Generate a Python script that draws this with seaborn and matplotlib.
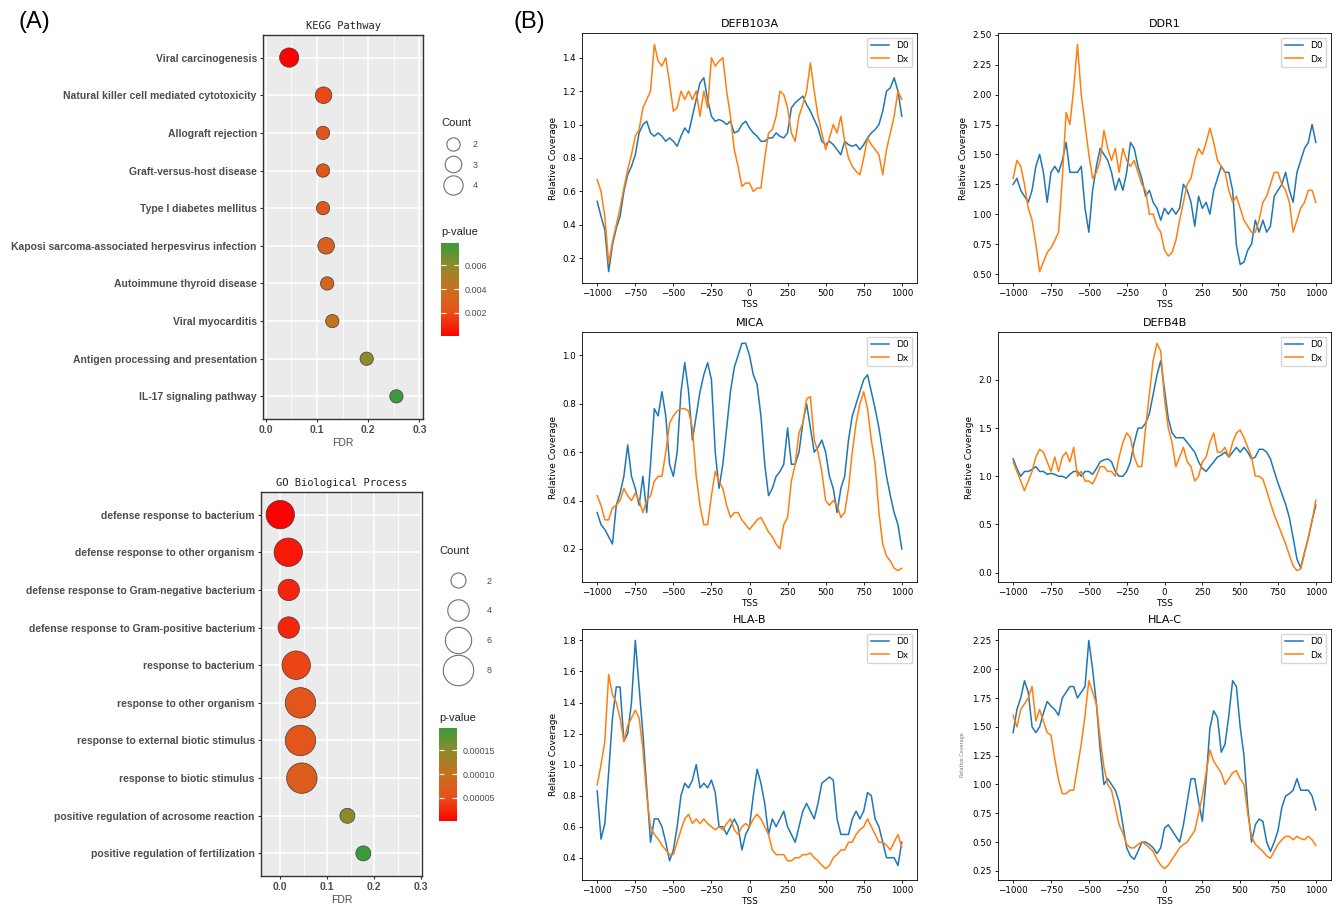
import numpy as np
import pandas as pd
import seaborn as sns
import matplotlib.pyplot as plt
from matplotlib.colors import LinearSegmentedColormap, Normalize
from matplotlib.cm import ScalarMappable
from matplotlib.lines import Line2D
from matplotlib.ticker import MultipleLocator, FormatStrFormatter

# ---- Panel A: enrichment dot plots ----
kegg_terms = ['Viral carcinogenesis', 'Natural killer cell mediated cytotoxicity',
              'Allograft rejection', 'Graft-versus-host disease', 'Type I diabetes mellitus',
              'Kaposi sarcoma-associated herpesvirus infection', 'Autoimmune thyroid disease',
              'Viral myocarditis', 'Antigen processing and presentation', 'IL-17 signaling pathway']
kegg_fdr = [0.046, 0.113, 0.112, 0.112, 0.112, 0.118, 0.120, 0.130, 0.197, 0.255]
kegg_count = [4, 3, 2, 2, 2, 3, 2, 2, 2, 2]
kegg_p = [0.00003, 0.0018, 0.0024, 0.0024, 0.0024, 0.0030, 0.0033, 0.0041, 0.0059, 0.0079]

go_terms = ['defense response to bacterium', 'defense response to other organism',
            'defense response to Gram-negative bacterium', 'defense response to Gram-positive bacterium',
            'response to bacterium', 'response to other organism',
            'response to external biotic stimulus', 'response to biotic stimulus',
            'positive regulation of acrosome reaction', 'positive regulation of fertilization']
go_fdr = [0.000, 0.017, 0.018, 0.018, 0.034, 0.043, 0.043, 0.046, 0.143, 0.177]
go_count = [7, 7, 4, 4, 7, 8, 8, 8, 2, 2]
go_p = [1.3e-6, 1.6e-5, 2.4e-5, 2.4e-5, 4.3e-5, 5.9e-5, 5.9e-5, 6.8e-5, 1.5e-4, 1.97e-4]

# ---- Panel B: coverage around TSS ----
tss = list(range(-1000, 1001, 25))

defb103a_d0 = [0.54, 0.45, 0.37, 0.12, 0.28, 0.38, 0.45, 0.6, 0.7, 0.75,
               0.82, 0.95, 1.0, 1.02, 0.95, 0.93, 0.95, 0.93, 0.9, 0.92,
               0.9, 0.87, 0.93, 0.98, 0.95, 1.05, 1.15, 1.25, 1.28, 1.15,
               1.05, 1.02, 1.03, 1.02, 1.0, 1.02, 0.95, 0.96, 1.0, 1.02,
               0.98, 0.95, 0.93, 0.9, 0.9, 0.92, 0.92, 0.95, 0.93, 0.92,
               0.95, 1.1, 1.13, 1.15, 1.17, 1.12, 1.08, 1.03, 0.98, 0.9,
               0.88, 0.9, 0.88, 0.85, 0.82, 0.9, 0.88, 0.87, 0.88, 0.85,
               0.88, 0.92, 0.95, 0.97, 1.0, 1.08, 1.2, 1.22, 1.28, 1.2,
               1.05]
defb103a_dx = [0.67, 0.6, 0.45, 0.17, 0.3, 0.4, 0.5, 0.62, 0.73, 0.82,
               0.93, 0.97, 1.1, 1.15, 1.2, 1.48, 1.38, 1.35, 1.4, 1.25,
               1.08, 1.1, 1.2, 1.15, 1.2, 1.15, 1.2, 1.05, 1.2, 1.1,
               1.4, 1.35, 1.38, 1.4, 1.2, 1.05, 0.85, 0.75, 0.63, 0.65,
               0.65, 0.6, 0.62, 0.62, 0.8, 0.95, 0.97, 1.05, 1.2, 1.18,
               1.1, 0.95, 0.9, 1.05, 1.12, 1.2, 1.37, 1.2, 1.05, 0.95,
               0.85, 0.92, 1.0, 0.95, 1.05, 0.9, 0.8, 0.75, 0.72, 0.7,
               0.8, 0.92, 0.88, 0.85, 0.82, 0.7, 0.85, 0.95, 1.05, 1.2,
               1.15]

ddr1_d0 = [1.25, 1.3, 1.2, 1.15, 1.1, 1.2, 1.4, 1.5, 1.35, 1.1,
           1.35, 1.4, 1.35, 1.45, 1.6, 1.35, 1.35, 1.35, 1.4, 1.05,
           0.85, 1.2, 1.4, 1.55, 1.5, 1.45, 1.35, 1.2, 1.3, 1.2,
           1.35, 1.6, 1.55, 1.4, 1.3, 1.15, 1.2, 1.1, 1.05, 0.95,
           1.05, 1.0, 1.05, 1.0, 1.05, 1.25, 1.2, 1.1, 0.9, 1.15,
           1.05, 1.1, 1.0, 1.2, 1.3, 1.4, 1.35, 1.35, 1.2, 0.74,
           0.58, 0.6, 0.7, 0.75, 0.95, 0.85, 0.95, 0.85, 0.9, 1.15,
           1.2, 1.25, 1.35, 1.2, 1.1, 1.35, 1.45, 1.55, 1.6, 1.75,
           1.6]
ddr1_dx = [1.3, 1.45, 1.4, 1.25, 1.05, 0.95, 0.75, 0.52, 0.6, 0.68,
           0.72, 0.78, 0.85, 1.3, 1.85, 1.75, 2.05, 2.42, 2.0, 1.75,
           1.5, 1.3, 1.35, 1.45, 1.7, 1.55, 1.45, 1.55, 1.35, 1.55,
           1.45, 1.4, 1.45, 1.35, 1.25, 1.2, 1.0, 1.0, 0.9, 0.85,
           0.7, 0.65, 0.68, 0.78, 0.95, 1.1, 1.25, 1.3, 1.45, 1.55,
           1.5, 1.6, 1.72, 1.6, 1.45, 1.4, 1.35, 1.2, 1.1, 1.15,
           1.05, 0.95, 0.9, 0.85, 0.85, 0.95, 1.1, 1.15, 1.25, 1.35,
           1.35, 1.25, 1.2, 1.1, 0.85, 0.95, 1.05, 1.1, 1.2, 1.2,
           1.1]

mica_d0 = [0.35, 0.3, 0.28, 0.25, 0.22, 0.38, 0.43, 0.5, 0.63, 0.5,
           0.45, 0.38, 0.5, 0.35, 0.55, 0.78, 0.75, 0.85, 0.75, 0.55,
           0.5, 0.6, 0.85, 0.97, 0.85, 0.65, 0.75, 0.85, 0.92, 0.97,
           0.9, 0.6, 0.45, 0.55, 0.7, 0.85, 0.95, 1.0, 1.05, 1.05,
           1.0, 0.92, 0.88, 0.75, 0.55, 0.42, 0.45, 0.5, 0.52, 0.55,
           0.7, 0.55, 0.55, 0.6, 0.72, 0.8, 0.7, 0.6, 0.62, 0.65,
           0.6, 0.5, 0.45, 0.35, 0.45, 0.5, 0.65, 0.75, 0.8, 0.85,
           0.9, 0.92, 0.85, 0.78, 0.7, 0.6, 0.5, 0.42, 0.35, 0.3,
           0.2]
mica_dx = [0.42, 0.38, 0.32, 0.32, 0.37, 0.38, 0.4, 0.45, 0.42, 0.4,
           0.43, 0.4, 0.35, 0.4, 0.42, 0.48, 0.5, 0.5, 0.6, 0.72,
           0.75, 0.77, 0.78, 0.78, 0.77, 0.7, 0.5, 0.38, 0.3, 0.3,
           0.42, 0.52, 0.48, 0.45, 0.38, 0.33, 0.35, 0.35, 0.32, 0.3,
           0.28, 0.3, 0.32, 0.33, 0.3, 0.27, 0.25, 0.22, 0.2, 0.3,
           0.33, 0.48, 0.55, 0.68, 0.72, 0.82, 0.83, 0.65, 0.6, 0.52,
           0.4, 0.38, 0.4, 0.38, 0.33, 0.35, 0.45, 0.6, 0.72, 0.8,
           0.85, 0.78, 0.65, 0.55, 0.35, 0.22, 0.17, 0.15, 0.12, 0.11,
           0.12]

defb4b_d0 = [1.18, 1.08, 1.0, 1.05, 1.05, 1.07, 1.1, 1.05, 1.05, 1.02,
             1.03, 1.02, 1.0, 1.0, 0.98, 1.02, 1.05, 1.05, 1.0, 1.05,
             1.05, 1.02, 1.08, 1.15, 1.17, 1.18, 1.15, 1.05, 1.0, 1.0,
             1.05, 1.15, 1.35, 1.5, 1.5, 1.55, 1.65, 1.85, 2.05, 2.2,
             1.9, 1.6, 1.45, 1.4, 1.4, 1.4, 1.35, 1.3, 1.25, 1.15,
             1.08, 1.05, 1.1, 1.15, 1.2, 1.22, 1.25, 1.2, 1.25, 1.3,
             1.25, 1.3, 1.25, 1.18, 1.2, 1.28, 1.28, 1.25, 1.18, 1.05,
             0.93, 0.82, 0.71, 0.57, 0.36, 0.14, 0.05, 0.21, 0.36, 0.54,
             0.7]
defb4b_dx = [1.15, 1.05, 0.95, 0.85, 0.95, 1.05, 1.2, 1.28, 1.25, 1.15,
             1.05, 1.2, 1.05, 1.2, 1.25, 1.15, 1.3, 1.0, 1.05, 0.95,
             0.95, 0.92, 1.0, 1.1, 1.1, 1.05, 1.05, 1.0, 1.2, 1.35,
             1.45, 1.4, 1.2, 1.1, 1.1, 1.5, 1.85, 2.2, 2.38, 2.3,
             1.8, 1.5, 1.35, 1.1, 1.2, 1.3, 1.15, 1.1, 0.95, 1.0,
             1.15, 1.2, 1.35, 1.45, 1.25, 1.25, 1.3, 1.2, 1.35, 1.45,
             1.48, 1.4, 1.3, 1.2, 1.0, 1.0, 0.97, 0.85, 0.72, 0.6,
             0.5, 0.4, 0.3, 0.18, 0.07, 0.02, 0.04, 0.2, 0.36, 0.54,
             0.75]

hlab_d0 = [0.83, 0.52, 0.62, 0.95, 1.3, 1.5, 1.5, 1.15, 1.2, 1.4,
           1.8, 1.5, 1.2, 0.85, 0.5, 0.65, 0.65, 0.6, 0.5, 0.38,
           0.45, 0.6, 0.8, 0.88, 0.85, 0.9, 1.0, 0.85, 0.88, 0.85,
           0.9, 0.82, 0.6, 0.6, 0.55, 0.6, 0.65, 0.6, 0.45, 0.55,
           0.6, 0.8, 0.97, 0.88, 0.75, 0.55, 0.65, 0.6, 0.65, 0.7,
           0.6, 0.55, 0.5, 0.6, 0.7, 0.75, 0.7, 0.65, 0.75, 0.88,
           0.9, 0.92, 0.9, 0.65, 0.55, 0.55, 0.55, 0.65, 0.7, 0.65,
           0.7, 0.82, 0.8, 0.65, 0.6, 0.5, 0.4, 0.4, 0.4, 0.35,
           0.5]
hlab_dx = [0.87, 1.0, 1.15, 1.58, 1.45, 1.4, 1.3, 1.15, 1.25, 1.3,
           1.35, 1.3, 1.1, 0.8, 0.6, 0.55, 0.52, 0.48, 0.45, 0.42,
           0.42, 0.5, 0.58, 0.65, 0.68, 0.62, 0.65, 0.62, 0.65, 0.62,
           0.6, 0.58, 0.6, 0.58, 0.62, 0.65, 0.58, 0.55, 0.6, 0.62,
           0.6, 0.65, 0.68, 0.65, 0.6, 0.55, 0.45, 0.42, 0.42, 0.42,
           0.38, 0.38, 0.4, 0.4, 0.42, 0.42, 0.43, 0.4, 0.38, 0.35,
           0.33, 0.35, 0.4, 0.42, 0.45, 0.45, 0.5, 0.5, 0.55, 0.58,
           0.6, 0.65, 0.6, 0.55, 0.5, 0.5, 0.48, 0.45, 0.5, 0.55,
           0.47]

hlac_d0 = [1.45, 1.65, 1.75, 1.9, 1.8, 1.5, 1.45, 1.5, 1.62, 1.72,
           1.68, 1.65, 1.6, 1.75, 1.8, 1.85, 1.85, 1.75, 1.8, 1.85,
           2.25, 2.0, 1.7, 1.3, 1.0, 1.05, 1.0, 0.95, 0.85, 0.65,
           0.45, 0.38, 0.35, 0.42, 0.5, 0.5, 0.48, 0.45, 0.4, 0.45,
           0.62, 0.65, 0.6, 0.55, 0.5, 0.65, 0.85, 1.05, 1.05, 0.85,
           0.68, 1.04, 1.49, 1.64, 1.58, 1.28, 1.35, 1.6, 1.9, 1.85,
           1.5, 1.25, 0.8, 0.5, 0.65, 0.7, 0.68, 0.5, 0.42, 0.5,
           0.6, 0.8, 0.9, 0.92, 0.95, 1.05, 0.95, 0.95, 0.95, 0.9,
           0.78]
hlac_dx = [1.6, 1.5, 1.65, 1.7, 1.75, 1.85, 1.55, 1.65, 1.55, 1.45,
           1.43, 1.22, 1.04, 0.92, 0.92, 0.95, 0.95, 1.15, 1.35, 1.6,
           1.9, 1.8, 1.7, 1.4, 1.15, 1.0, 0.95, 0.8, 0.65, 0.58,
           0.48, 0.45, 0.45, 0.48, 0.5, 0.48, 0.45, 0.42, 0.35, 0.3,
           0.27, 0.3, 0.35, 0.4, 0.45, 0.48, 0.5, 0.55, 0.6, 0.75,
           0.9, 1.1, 1.3, 1.2, 1.15, 1.1, 1.0, 1.05, 1.1, 1.12,
           1.05, 1.0, 0.75, 0.55, 0.48, 0.45, 0.42, 0.38, 0.36, 0.42,
           0.48, 0.52, 0.55, 0.55, 0.52, 0.55, 0.53, 0.52, 0.55, 0.52,
           0.47]

cov_genes = ['DEFB103A', 'DDR1', 'MICA', 'DEFB4B', 'HLA-B', 'HLA-C']
cov_d0 = [defb103a_d0, ddr1_d0, mica_d0, defb4b_d0, hlab_d0, hlac_d0]
cov_dx = [defb103a_dx, ddr1_dx, mica_dx, defb4b_dx, hlab_dx, hlac_dx]

# ---- Figure ----
fig = plt.figure(figsize=(13.38, 9.09), dpi=100)

ARIAL = ['Liberation Sans', 'DejaVu Sans']
GRAY = '#4D4D4D'
pcmap = LinearSegmentedColormap.from_list(
    'pval', ['#FF0000', '#E8501A', '#C8701F', '#8F8A2C', '#3B9B3B'])

dot_panels = [
    dict(terms=kegg_terms, fdr=kegg_fdr, count=kegg_count, p=kegg_p,
         title='KEGG Pathway', rect=[0.1966, 0.5391, 0.1196, 0.4224],
         xlim=(-0.005, 0.307), sizes=(92, 193), size_norm=(2, 4),
         legend_counts=[2, 3, 4], legend_xy=(0.3296, 0.8700),
         labelspacing=1.3, handlelength=2.6, handletextpad=0.9,
         cbar_rect=[0.3296, 0.6304, 0.01345, 0.1023],
         cbar_ticks=[0.002, 0.004, 0.006], cbar_fmt='%.3f', ptitle_y=0.7448),
    dict(terms=go_terms, fdr=go_fdr, count=go_count, p=go_p,
         title='GO Biological Process', rect=[0.1951, 0.0363, 0.1203, 0.4224],
         xlim=(-0.041, 0.302), sizes=(117, 480), size_norm=(2, 8),
         legend_counts=[2, 4, 6, 8], legend_xy=(0.3281, 0.3995),
         labelspacing=2.3, handlelength=4.3, handletextpad=1.0,
         cbar_rect=[0.3281, 0.0968, 0.0138, 0.1023],
         cbar_ticks=[0.00005, 0.0001, 0.00015], cbar_fmt='%.5f', ptitle_y=0.2101),
]

for pan in dot_panels:
    df = pd.DataFrame({'term': pan['terms'], 'FDR': pan['fdr'],
                       'Count': pan['count'], 'p': pan['p']})
    pnorm = Normalize(min(pan['p']), max(pan['p']))

    ax = fig.add_axes(pan['rect'])
    ax.set_facecolor('#EBEBEB')
    sns.scatterplot(data=df, x='FDR', y='term', size='Count', sizes=pan['sizes'],
                    size_norm=pan['size_norm'], hue='p', palette=pcmap, hue_norm=pnorm,
                    edgecolor='#3d3d3d', linewidth=0.5, legend=False, ax=ax, zorder=3)
    ax.set_xlim(pan['xlim'])
    ax.set_ylim(len(pan['terms']) - 0.4, -0.6)
    ax.set_xticks([0.0, 0.1, 0.2, 0.3])
    ax.set_xticks([0.05, 0.15, 0.25], minor=True)
    ax.set_axisbelow(True)
    ax.grid(which='major', color='white', linewidth=1.1)
    ax.grid(which='minor', axis='x', color='white', linewidth=0.55)
    ax.tick_params(which='minor', length=0)
    ax.tick_params(which='major', length=2.5, width=0.8, color='#333333', pad=2,
                   labelsize=7.5, labelcolor=GRAY)
    for lab in ax.get_xticklabels() + ax.get_yticklabels():
        lab.set_fontfamily(ARIAL)
        lab.set_fontweight('bold')
    for s in ax.spines.values():
        s.set_color('#333333')
        s.set_linewidth(1.0)
    ax.set_xlabel('FDR', fontsize=7.5, color=GRAY, family=ARIAL, labelpad=2)
    ax.set_ylabel('')
    ax.set_title(pan['title'], fontsize=7.5, family='DejaVu Sans Mono', color='#222222', pad=4)

    # Count legend
    s0, s1 = pan['sizes']
    n0, n1 = pan['size_norm']
    handles = [Line2D([], [], linestyle='none', marker='o',
                      markersize=np.sqrt(s0 + (c - n0) / (n1 - n0) * (s1 - s0)),
                      markerfacecolor='white', markeredgecolor='#707070', markeredgewidth=0.8)
               for c in pan['legend_counts']]
    leg = ax.legend(handles, [str(c) for c in pan['legend_counts']], title='Count',
                    loc='upper left', bbox_to_anchor=pan['legend_xy'],
                    bbox_transform=fig.transFigure, frameon=False,
                    prop={'family': ARIAL, 'size': 6.5},
                    title_fontproperties={'family': ARIAL, 'size': 8},
                    labelspacing=pan['labelspacing'], handlelength=pan['handlelength'],
                    handletextpad=pan['handletextpad'], borderpad=0, borderaxespad=0,
                    alignment='left')
    for t in leg.get_texts():
        t.set_color(GRAY)
    leg.get_title().set_color('#222222')

    # p-value colorbar
    cax = fig.add_axes(pan['cbar_rect'])
    cb = fig.colorbar(ScalarMappable(norm=pnorm, cmap=pcmap), cax=cax,
                      ticks=pan['cbar_ticks'], format=FormatStrFormatter(pan['cbar_fmt']))
    cb.outline.set_visible(False)
    cax.tick_params(axis='y', which='both', direction='in', length=3.5, width=0.8,
                    color='white', left=True, right=True, labelleft=False,
                    labelright=True, labelsize=6.5, labelcolor=GRAY, pad=4)
    for lab in cax.get_yticklabels():
        lab.set_fontfamily(ARIAL)
    fig.text(pan['cbar_rect'][0], pan['ptitle_y'], 'p-value', fontsize=8,
             family=ARIAL, color='#222222', va='center')

# Coverage line plots
col_x = [0.43498, 0.74589]
col_w = [0.25037, 0.24888]
row_y = [0.68867, 0.35974, 0.03190]
row_h = [0.27503, 0.27503, 0.27613]
ystep = [0.2, 0.25, 0.2, 0.5, 0.2, 0.25]

for i, gene in enumerate(cov_genes):
    r, c = divmod(i, 2)
    ax = fig.add_axes([col_x[c], row_y[r], col_w[c], row_h[r]])
    df = pd.DataFrame({'TSS': tss + tss,
                       'Relative Coverage': cov_d0[i] + cov_dx[i],
                       'sample': ['D0'] * len(tss) + ['Dx'] * len(tss)})
    sns.lineplot(data=df, x='TSS', y='Relative Coverage', hue='sample',
                 palette={'D0': '#1f77b4', 'Dx': '#ff7f0e'}, estimator=None,
                 linewidth=1.1, ax=ax)
    ax.set_title(gene, fontsize=8, pad=4)
    ax.set_xticks(range(-1000, 1001, 250))
    ax.yaxis.set_major_locator(MultipleLocator(ystep[i]))
    ax.tick_params(labelsize=6.3, length=2.5, width=0.6, pad=2)
    ax.set_xlabel('TSS', fontsize=6.5, labelpad=1)
    if gene == 'HLA-C':
        ax.set_ylabel('Relative Coverage', fontsize=3.5, color='#777777', labelpad=5)
    else:
        ax.set_ylabel('Relative Coverage', fontsize=6.5, labelpad=3)
    for s in ax.spines.values():
        s.set_linewidth(0.6)
    old = ax.get_legend()
    ax.legend(old.legend_handles, [t.get_text() for t in old.get_texts()],
              loc='upper right', fontsize=6.5)

fig.text(0.014, 0.988, '(A)', fontsize=17, family=ARIAL, va='top')
fig.text(0.384, 0.988, '(B)', fontsize=17, family=ARIAL, va='top')

fig.savefig('out.png', dpi=100)
